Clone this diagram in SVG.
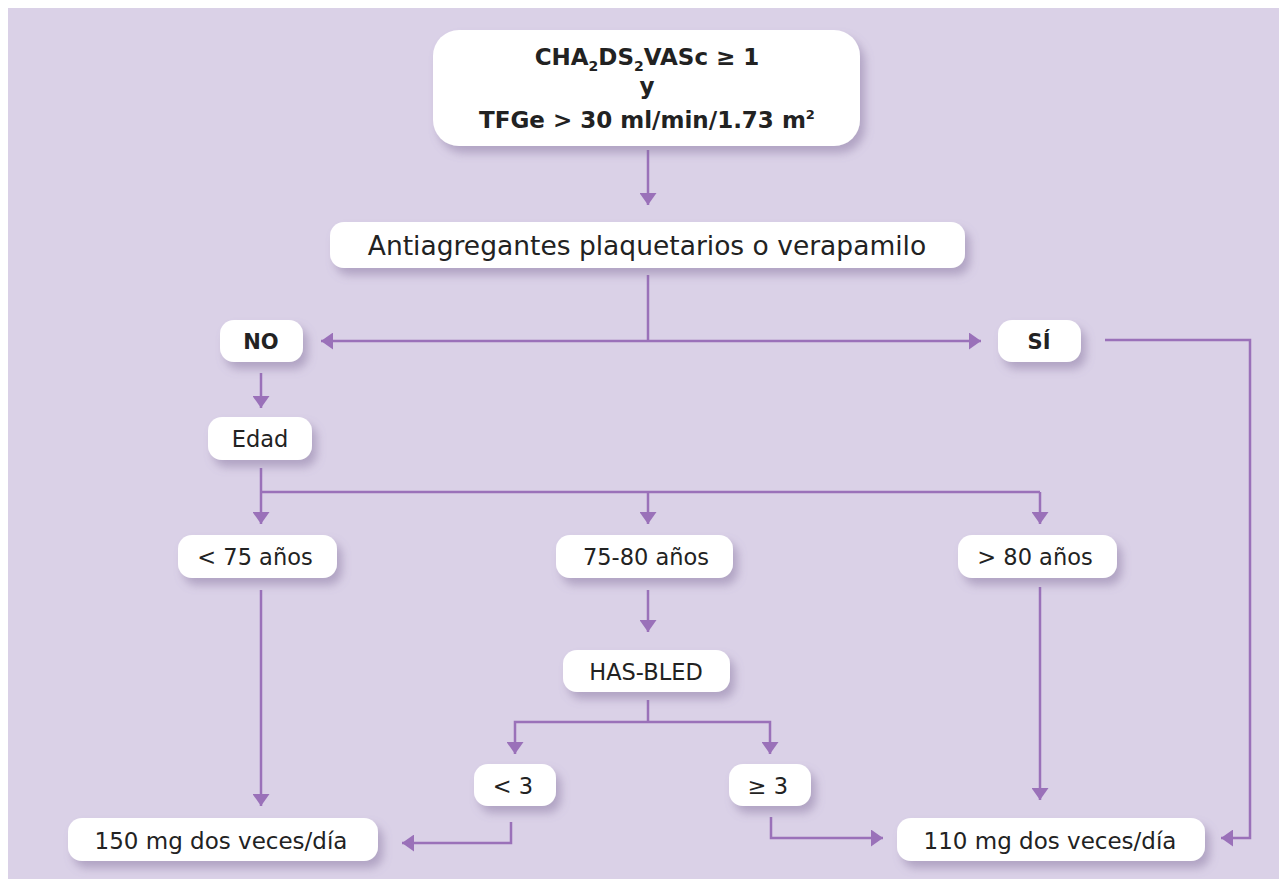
<svg xmlns="http://www.w3.org/2000/svg" width="1279" height="879" viewBox="0 0 1279 879">
<defs>
<filter id="sh" x="-20%" y="-40%" width="140%" height="200%">
<feDropShadow dx="5" dy="7" stdDeviation="5" flood-color="#7e6b98" flood-opacity="0.45"/>
</filter>
<marker id="ah" viewBox="0 0 12 17" refX="12" refY="8.5" markerWidth="12" markerHeight="17" orient="auto" markerUnits="userSpaceOnUse">
<path d="M0,0 L12,8.5 L0,17 z" fill="#9a71b9"/>
</marker>
<style>
.bx{fill:#ffffff;filter:url(#sh)}
.t{font-family:"DejaVu Sans","Noto Sans",sans-serif;fill:#222222;text-anchor:middle}
.b{font-weight:bold}
.c{fill:none;stroke:#9a71b9;stroke-width:2.5}
.a{marker-end:url(#ah)}
</style>
</defs>
<rect x="8" y="8" width="1271" height="871" fill="#dad1e7"/>
<g id="connectors">
<path class="c a" d="M648,150 V205"/>
<path class="c" d="M648,275 V341"/>
<path class="c a" d="M648,341 H321"/>
<path class="c a" d="M648,341 H981"/>
<path class="c a" d="M1105,340 H1250 V838 H1221"/>
<path class="c a" d="M261,373 V408"/>
<path class="c a" d="M261,468 V524"/>
<path class="c" d="M261,492 H1040"/>
<path class="c a" d="M648,492 V524"/>
<path class="c a" d="M1040,492 V524"/>
<path class="c a" d="M261,590 V806"/>
<path class="c a" d="M648,590 V632"/>
<path class="c a" d="M1040,587 V800"/>
<path class="c" d="M648,700 V722"/>
<path class="c a" d="M648,722 H515 V754"/>
<path class="c a" d="M648,722 H770 V754"/>
<path class="c a" d="M511,822 V843 H402"/>
<path class="c a" d="M771,817 V838 H883"/>
</g>
<g id="n-top">
<rect class="bx" x="433" y="30" width="427" height="116" rx="26"/>
<text class="t b" x="647" y="65" font-size="23">CHA<tspan font-size="14" dy="6">2</tspan><tspan dy="-6">DS</tspan><tspan font-size="14" dy="6">2</tspan><tspan dy="-6">VASc ≥ 1</tspan></text>
<text class="t b" x="647" y="94" font-size="23">y</text>
<text class="t b" x="647" y="128" font-size="23">TFGe &gt; 30 ml/min/1.73 m<tspan font-size="13" dy="-9">2</tspan></text>
</g>
<g id="n-anti">
<rect class="bx" x="330" y="222" width="635" height="46" rx="14"/>
<text class="t" x="647" y="255" font-size="26.5">Antiagregantes plaquetarios o verapamilo</text>
</g>
<g id="n-no">
<rect class="bx" x="220" y="320" width="83" height="42" rx="14"/>
<text class="t b" x="261" y="349" font-size="21">NO</text>
</g>
<g id="n-si">
<rect class="bx" x="998" y="320" width="83" height="42" rx="14"/>
<text class="t b" x="1039" y="349" font-size="21">SÍ</text>
</g>
<g id="n-edad">
<rect class="bx" x="208" y="417" width="104" height="43" rx="14"/>
<text class="t" x="260" y="447" font-size="22.5">Edad</text>
</g>
<g id="n-lt75">
<rect class="bx" x="178" y="535" width="159" height="43" rx="14"/>
<text class="t" x="255" y="565" font-size="22.5">&lt; 75 años</text>
</g>
<g id="n-7580">
<rect class="bx" x="556" y="535" width="177" height="43" rx="14"/>
<text class="t" x="646" y="565" font-size="22.5">75-80 años</text>
</g>
<g id="n-gt80">
<rect class="bx" x="958" y="535" width="159" height="43" rx="14"/>
<text class="t" x="1035" y="565" font-size="22.5">&gt; 80 años</text>
</g>
<g id="n-hasbled">
<rect class="bx" x="563" y="650" width="167" height="42" rx="14"/>
<text class="t" x="646" y="680" font-size="22.5">HAS-BLED</text>
</g>
<g id="n-lt3">
<rect class="bx" x="474" y="764" width="82" height="42" rx="14"/>
<text class="t" x="513" y="794" font-size="22.5">&lt; 3</text>
</g>
<g id="n-ge3">
<rect class="bx" x="729" y="764" width="82" height="42" rx="14"/>
<text class="t" x="768" y="794" font-size="22.5">≥ 3</text>
</g>
<g id="n-150">
<rect class="bx" x="68" y="818" width="310" height="43" rx="14"/>
<text class="t" x="221" y="849" font-size="23">150 mg dos veces/día</text>
</g>
<g id="n-110">
<rect class="bx" x="897" y="818" width="308" height="43" rx="14"/>
<text class="t" x="1050" y="849" font-size="23">110 mg dos veces/día</text>
</g>
</svg>
